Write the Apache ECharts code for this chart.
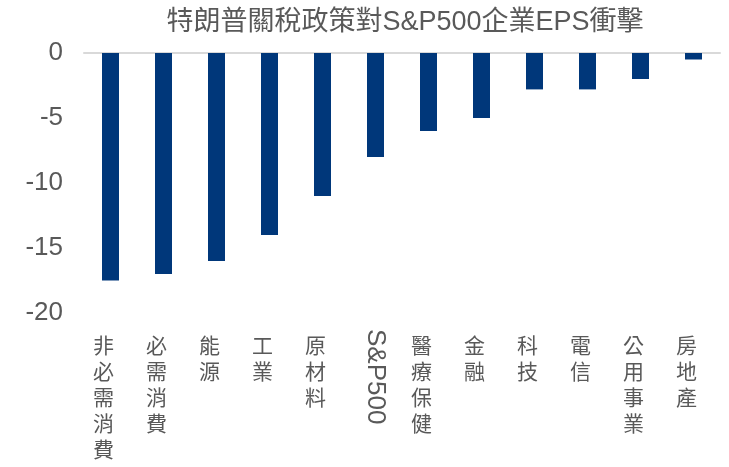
<!DOCTYPE html>
<html>
<head>
<meta charset="utf-8">
<script src="https://cdn.jsdelivr.net/npm/echarts@6/dist/echarts.min.js"></script>
<style>
html,body{margin:0;padding:0;background:#fff;}
#chart{width:729px;height:467px;}
</style>
</head>
<body>
<div id="chart"></div>
<script>
const titleText = '特朗普關稅政策對S&P500企業EPS衝擊';
const categories = ['非必需消費','必需消費','能源','工業','原材料','S&P500','醫療保健','金融','科技','電信','公用事業','房地產'];
const values = [-17.5, -17, -16, -14, -11, -8, -6, -5, -2.8, -2.8, -2, -0.5];
const yTicks = { min: -20, max: 0, interval: 5 };
const rotatedCategory = 'S&P500';

const chart = echarts.init(document.getElementById('chart'));
const fontCJK = '"Liberation Sans", Arial, "Noto Sans CJK TC", sans-serif';
chart.setOption({
  animation: false,
  title: {
    text: titleText,
    left: 400, top: 4, textAlign: 'center',
    textStyle: { color: '#595959', fontSize: 27, fontWeight: 'normal', fontFamily: fontCJK }
  },
  grid: { left: 84, right: 9, top: 53, bottom: 154, containLabel: false },
  xAxis: [
    {
      type: 'category', data: categories, position: 'bottom',
      axisLine: { show: false, onZero: false }, axisTick: { show: false },
      axisLabel: {
        interval: 0, margin: 21, color: '#595959', fontSize: 21, lineHeight: 26,
        fontFamily: fontCJK, verticalAlign: 'top', padding: [0, 14, 0, 0],
        formatter: v => v === rotatedCategory ? '' : v.split('').join('\n')
      }
    },
    {
      type: 'category', data: categories, position: 'bottom',
      axisLine: { show: false, onZero: false }, axisTick: { show: false },
      axisLabel: {
        interval: 0, margin: 16, rotate: -90, color: '#595959', fontSize: 26,
        fontFamily: fontCJK,
        formatter: v => v === rotatedCategory ? v : ''
      }
    },
    {
      type: 'category', data: categories, position: 'top',
      axisLine: { show: true, onZero: false, lineStyle: { color: '#d9d9d9', width: 2 } },
      axisTick: { show: false }, axisLabel: { show: false }
    }
  ],
  yAxis: {
    type: 'value', min: yTicks.min, max: yTicks.max, interval: yTicks.interval,
    axisLine: { show: false }, axisTick: { show: false }, splitLine: { show: false },
    axisLabel: { color: '#595959', fontSize: 26, margin: 21, fontFamily: fontCJK }
  },
  series: [{
    type: 'bar', data: values, xAxisIndex: 0, barWidth: 17,
    itemStyle: { color: '#00377a' }
  }]
});
</script>
</body>
</html>
